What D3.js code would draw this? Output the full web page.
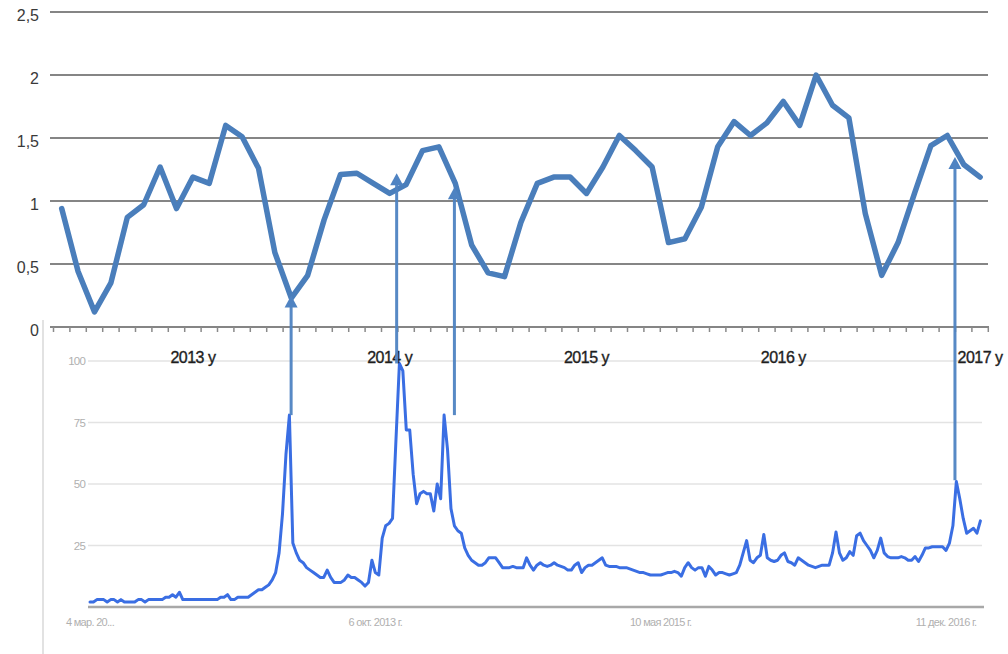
<!DOCTYPE html>
<html><head><meta charset="utf-8">
<script src="https://cdn.jsdelivr.net/npm/d3@7"></script>
<style>
html,body{margin:0;padding:0;background:#fff;}
svg{display:block;}
</style></head>
<body>
<svg id="chart" width="1008" height="654"></svg>
<script>
// ---- Top chart (monthly index) ----
const topStartMonth = "2012-05-01";
const topValues = [0.94,0.44,0.12,0.35,0.87,0.97,1.27,0.94,1.19,1.14,
  1.60,1.51,1.26,0.59,0.23,0.41,0.85,1.21,1.22,1.14,
  1.06,1.13,1.40,1.43,1.14,0.65,0.43,0.40,0.83,1.14,
  1.19,1.19,1.06,1.27,1.52,1.40,1.27,0.67,0.70,0.95,
  1.43,1.63,1.52,1.62,1.79,1.60,2.00,1.76,1.66,0.90,
  0.41,0.67,1.06,1.44,1.52,1.29,1.19];
const topTicks = [0,0.5,1,1.5,2,2.5];
const yearLabels = ["2013 y","2014 y","2015 y","2016 y","2017 y"];
const yearLabelIndex = [8,20,32,44,56];

// ---- Bottom chart (weekly search interest) ----
const trendStart = "2012-03-04";
const trendValues = [
 2,2,3,3,3,2,3,3,2,3,
 2,2,2,2,3,3,2,3,3,3,
 3,3,4,4,5,4,6,3,3,3,
 3,3,3,3,3,3,3,3,4,4,
 5,3,3,4,4,4,4,5,6,7,
 7,8,9,11,14,22,38,62,78,26,
 22,19,18,16,15,14,13,12,12,15,
 12,10,10,10,11,13,12,12,11,10,
 8.5,10,19,14,13,28,33,34,36,68,
 99,96,72,72,54,42,46,47,46,46,
 39,50,44,78,64,40,33,31,30,24,
 21,19,18,17,17,18,20,20,20,18,
 16,16,16,16.5,16,16,16,20,17,15,
 17,18,17,16.5,17,18,17,16.5,16,15,
 15,17,18,14,16,17,17,18,19,20,
 17,16.5,16.5,16.5,16,16,16,15.5,15,14.5,
 14,14,13.5,13,13,13,13,13.5,14,14,
 14.5,14,12.5,16,18,16,15,16,16,12.5,
 16.5,15,13,14,14,13.5,13,13.5,14,17,
 22,27,19,18,20,21,29.5,20,19,18.5,
 19,21,22,18.5,18,17,20,19,18,17,
 16.5,16,16.5,17,17,17,22,30.5,22,19,
 20,22.5,21,29,30,27,25,23,20,23,
 28,22,20.5,20,20,20,20.5,20,19,19,
 20.5,18.5,21,24,24,24.5,24.5,24.5,24.5,23,
 26,33,51,44,36,30,31,32,30,35];
const trendTicks = [25,50,75,100];
const trendDateLabels = ["4 мар. 20...","6 окт. 2013 г.","10 мая 2015 г.","11 дек. 2016 г."];
const trendDateWeeks = [0,83,166,249];

// ---- Arrows linking search peaks to the index ----
const arrowWeeks = [58.5,89.2,106,251.6];
const arrowFromTrend = [78,99,78,51.5];
const arrowToIndex = [0.25,1.22,1.11,1.35];

const svg = d3.select("#chart");

// Scales
const xTop = d3.scaleBand().domain(d3.range(topValues.length)).range([53.5, 988.3]).paddingInner(0).paddingOuter(0);
const yTop = d3.scaleLinear().domain([0,2.5]).range([327,12]);
const xTr = d3.scaleLinear().domain([0, trendValues.length-1]).range([90, 980.4]);
const yTr = d3.scaleLinear().domain([0,100]).range([607,361]);

// ---- Bottom Trends-style panel ----
const gB = svg.append("g");
gB.append("line").attr("x1",43).attr("x2",43).attr("y1",320).attr("y2",654)
  .attr("stroke","#d9d9d9").attr("stroke-width",1.5);
gB.selectAll("line.tg").data(trendTicks).join("line").attr("class","tg")
  .attr("x1",88).attr("x2",982).attr("y1",d=>yTr(d)).attr("y2",d=>yTr(d))
  .attr("stroke","#e3e3e3").attr("stroke-width",1.5);
gB.append("line").attr("x1",88).attr("x2",984).attr("y1",yTr(0)).attr("y2",yTr(0))
  .attr("stroke","#a8a8a8").attr("stroke-width",2.5);
gB.selectAll("text.ty").data(trendTicks).join("text").attr("class","ty")
  .attr("x",85).attr("y",d=>yTr(d)+1).attr("text-anchor","end").attr("dominant-baseline","middle")
  .attr("font-family","Liberation Sans, Arial, sans-serif").attr("font-size",11.5)
  .attr("fill","#b0b0b0").attr("letter-spacing",-0.8).text(d=>d);
gB.selectAll("text.tx").data(trendDateLabels).join("text").attr("class","tx")
  .attr("x",(d,i)=>xTr(trendDateWeeks[i])).attr("y",626).attr("text-anchor","middle")
  .attr("font-family","Liberation Sans, Arial, sans-serif").attr("font-size",11)
  .attr("fill","#b0b0b0").attr("letter-spacing",-0.7).text(d=>d);
gB.append("path").datum(trendValues)
  .attr("d", d3.line().x((d,i)=>xTr(i)).y(d=>yTr(d)))
  .attr("fill","none").attr("stroke","#3a6ee3").attr("stroke-width",3)
  .attr("stroke-linejoin","round").attr("stroke-linecap","round");

// ---- Top chart ----
const gT = svg.append("g");
gT.selectAll("line.grid").data(topTicks.filter(d=>d>0)).join("line").attr("class","grid")
  .attr("x1",50).attr("x2",988).attr("y1",d=>yTop(d)).attr("y2",d=>yTop(d))
  .attr("stroke","#858585").attr("stroke-width",2.2);
gT.append("line").attr("x1",50).attr("x2",989).attr("y1",yTop(0)).attr("y2",yTop(0))
  .attr("stroke","#858585").attr("stroke-width",2.2);
const tickXs = xTop.domain().map(i=>xTop(i)).concat([xTop(topValues.length-1)+xTop.bandwidth()]);
gT.selectAll("line.tk").data(tickXs).join("line").attr("class","tk")
  .attr("x1",d=>d).attr("x2",d=>d).attr("y1",yTop(0)).attr("y2",yTop(0)+5)
  .attr("stroke","#8a8a8a").attr("stroke-width",1.5);
gT.selectAll("text.ylab").data(topTicks).join("text").attr("class","ylab")
  .attr("x",39).attr("y",d=>yTop(d)+5).attr("text-anchor","end").attr("dominant-baseline","middle")
  .attr("font-family","Liberation Sans, Arial, sans-serif").attr("font-size",16)
  .attr("fill","#3a3a3a").text(d=>String(d).replace(".",","));
gT.selectAll("text.yr").data(yearLabels).join("text").attr("class","yr")
  .attr("x",(d,i)=>xTop(yearLabelIndex[i])+xTop.bandwidth()/2).attr("y",363)
  .attr("text-anchor","middle")
  .attr("font-family","Liberation Sans, Arial, sans-serif").attr("font-size",16)
  .attr("fill","#1e1e1e").attr("stroke","#1e1e1e").attr("stroke-width",0.35)
  .attr("letter-spacing",-0.5).text(d=>d);
gT.append("path").datum(topValues)
  .attr("d", d3.line().x((d,i)=>xTop(i)+xTop.bandwidth()/2).y(d=>yTop(d)))
  .attr("fill","none").attr("stroke","#4a7ebb").attr("stroke-width",5.5)
  .attr("stroke-linejoin","round").attr("stroke-linecap","round");

// ---- Arrows ----
const gA = svg.append("g");
arrowWeeks.forEach((w,i)=>{
  const x = xTr(w), y1 = yTr(arrowFromTrend[i]), y2 = yTop(arrowToIndex[i]);
  gA.append("line").attr("x1",x).attr("x2",x).attr("y1",y1).attr("y2",y2+10)
    .attr("stroke","#4f83c2").attr("stroke-width",3).attr("opacity",0.95);
  gA.append("path")
    .attr("d",`M${x},${y2} L${x-6.5},${y2+12} L${x+6.5},${y2+12} Z`)
    .attr("fill","#4f83c2");
});
</script>
</body></html>
